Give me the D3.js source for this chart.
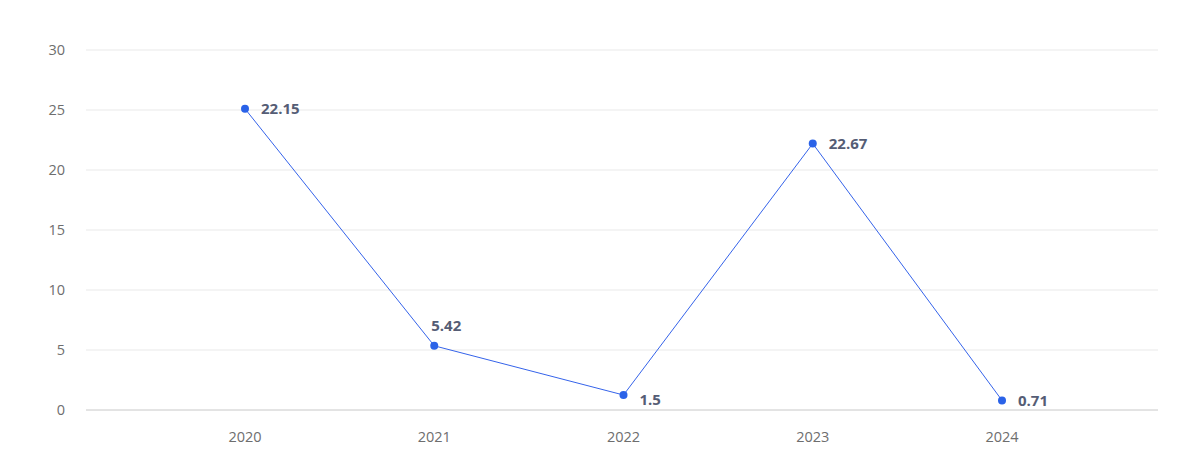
<!DOCTYPE html>
<html>
<head>
  <style>
    body {
      margin: 0;
      background: white;
    }
    text {
      font-family: "Open Sans", "Noto Sans", sans-serif;
    }
  </style>
</head>
<body>
  <script src="https://d3js.org/d3.v7.min.js"></script>
  <script>
    var width = 1184, height = 465;

    var years = ["2020", "2021", "2022", "2023", "2024"];
    // plotted heights
    var values = [25.1, 5.35, 1.25, 22.2, 0.8];
    // printed labels
    var labels = ["22.15", "5.42", "1.5", "22.67", "0.71"];
    var labelSide = ["right", "top", "right", "right", "right"];
    var yTicks = [0, 5, 10, 15, 20, 25, 30];

    var svg = d3.select("body").append("svg")
        .attr("width", width)
        .attr("height", height);

    var x = d3.scalePoint()
        .domain(years)
        .range([245, 1002]);

    var y = d3.scaleLinear()
        .domain([0, 30])
        .range([410, 50]);

    // gridlines
    svg.append("g").selectAll("line")
        .data(yTicks.filter(d => d > 0))
      .enter().append("line")
        .attr("x1", 86).attr("x2", 1158)
        .attr("y1", d => y(d)).attr("y2", d => y(d))
        .attr("stroke", "#e9e9e9");

    svg.append("line")
        .attr("x1", 86).attr("x2", 1158)
        .attr("y1", y(0)).attr("y2", y(0))
        .attr("stroke", "#c8c8c8");

    // y labels
    svg.append("g").selectAll("text")
        .data(yTicks)
      .enter().append("text")
        .attr("x", 65)
        .attr("y", d => y(d))
        .attr("dy", "0.35em")
        .attr("text-anchor", "end")
        .attr("font-size", 14.5)
        .attr("fill", "#6e6e6e")
        .text(d => d);

    // x labels
    svg.append("g").selectAll("text")
        .data(years)
      .enter().append("text")
        .attr("x", d => x(d))
        .attr("y", 437)
        .attr("dy", "0.35em")
        .attr("text-anchor", "middle")
        .attr("font-size", 14.5)
        .attr("fill", "#6e6e6e")
        .text(d => d);

    var pts = years.map((d, i) => ({
      year: d, value: values[i], label: labels[i], side: labelSide[i],
      rising: i < values.length - 1 && values[i + 1] > values[i]
    }));

    var line = d3.line()
        .x(d => x(d.year))
        .y(d => y(d.value));

    svg.append("path")
        .datum(pts)
        .attr("d", line)
        .attr("fill", "none")
        .attr("stroke", "#3563ea")
        .attr("stroke-width", 1);

    svg.append("g").selectAll("circle")
        .data(pts)
      .enter().append("circle")
        .attr("cx", d => x(d.year))
        .attr("cy", d => y(d.value))
        .attr("r", 4)
        .attr("fill", "#2a62e8");

    svg.append("g").selectAll("text")
        .data(pts)
      .enter().append("text")
        .attr("x", d => d.side == "top" ? x(d.year) - 3 : x(d.year) + 16)
        .attr("y", d => d.side == "top" ? y(d.value) - 20 : y(d.value) + (d.rising ? 5 : 0))
        .attr("dy", "0.35em")
        .attr("text-anchor", "start")
        .attr("font-size", 15)
        .attr("font-weight", "bold")
        .attr("fill", "#555d75")
        .text(d => d.label);
  </script>
</body>
</html>
